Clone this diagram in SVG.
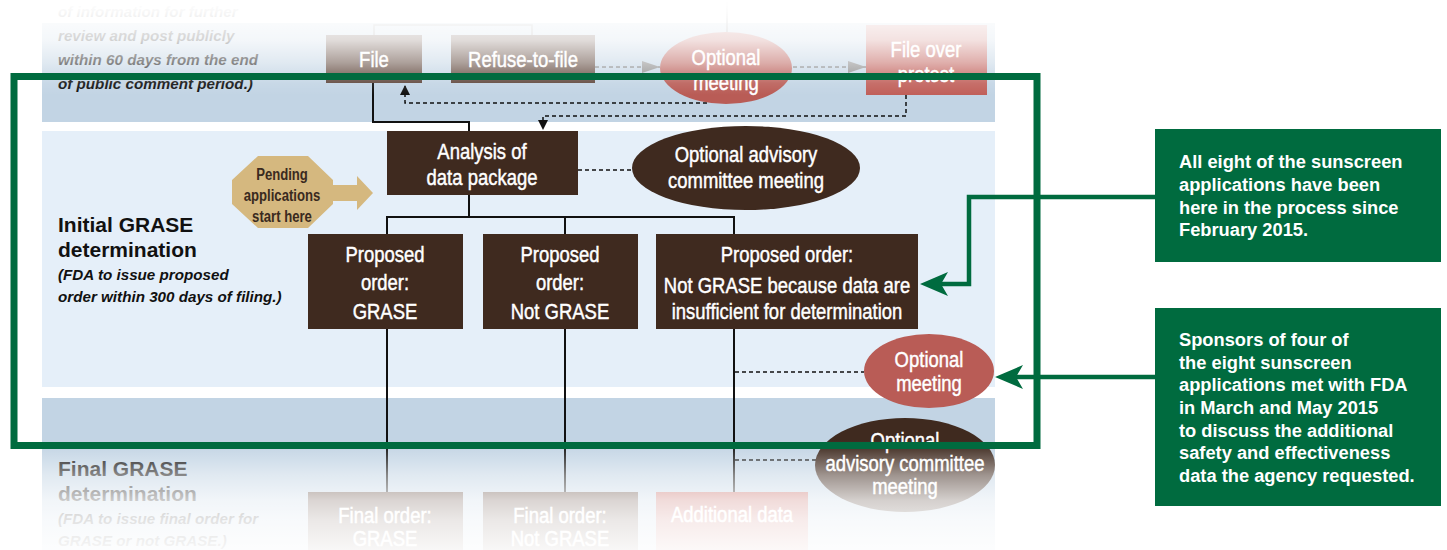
<svg xmlns="http://www.w3.org/2000/svg" width="1447" height="550" viewBox="0 0 1447 550">
<style>
.nt{font-family:"Liberation Sans",Arial,sans-serif;font-size:22px;fill:#fff;stroke:#fff;stroke-width:0.45px;text-anchor:middle}
.lbl{font-family:"Liberation Sans",Arial,sans-serif;font-weight:bold;font-size:21px;fill:#111}
.lbli{font-family:"Liberation Sans",Arial,sans-serif;font-weight:bold;font-style:italic;font-size:15.2px;fill:#111}
.co{font-family:"Liberation Sans",Arial,sans-serif;font-weight:bold;font-size:18.3px;fill:#fff}
.pend{font-family:"Liberation Sans",Arial,sans-serif;font-weight:bold;font-size:16px;fill:#3a2a1e;text-anchor:middle}
.brown{fill:#3f2a1f}
.red{fill:#b95c56}
.solid{fill:none;stroke:#111;stroke-width:2}
.dashb{fill:none;stroke:#111;stroke-width:1.5;stroke-dasharray:4 3}
.dashg{fill:none;stroke:#777;stroke-width:1.5;stroke-dasharray:4 3}
.green{fill:none;stroke:#006b3f;stroke-width:4.5}
</style>
<defs>
<marker id="ahB" viewBox="0 0 10 10" refX="10" refY="5" markerWidth="10" markerHeight="10" markerUnits="userSpaceOnUse" orient="auto"><path d="M0,0 L10,5 L0,10 Z" fill="#111"/></marker>
<marker id="ahG" viewBox="0 0 18 12" refX="18" refY="6" markerWidth="18" markerHeight="12" markerUnits="userSpaceOnUse" orient="auto"><path d="M0,0 L18,6 L0,12 Z" fill="#888"/></marker>
<marker id="ahGr" viewBox="0 0 28 24" refX="14" refY="12" markerWidth="28" markerHeight="24" markerUnits="userSpaceOnUse" orient="auto"><path d="M0,0 L28,12 L0,24 L7,12 Z" fill="#006b3f"/></marker>
<linearGradient id="fadeTop" x1="0" y1="0" x2="0" y2="1">
<stop offset="0" stop-color="#fff" stop-opacity="1"/>
<stop offset="0.12" stop-color="#fff" stop-opacity="0.97"/>
<stop offset="0.42" stop-color="#fff" stop-opacity="0.82"/>
<stop offset="0.66" stop-color="#fff" stop-opacity="0.5"/>
<stop offset="0.88" stop-color="#fff" stop-opacity="0.1"/>
<stop offset="1" stop-color="#fff" stop-opacity="0"/>
</linearGradient>
<linearGradient id="fadeBot" x1="0" y1="0" x2="0" y2="1">
<stop offset="0" stop-color="#fff" stop-opacity="0"/>
<stop offset="0.06" stop-color="#fff" stop-opacity="0.05"/>
<stop offset="0.32" stop-color="#fff" stop-opacity="0.5"/>
<stop offset="0.55" stop-color="#fff" stop-opacity="0.78"/>
<stop offset="0.73" stop-color="#fff" stop-opacity="0.88"/>
<stop offset="1" stop-color="#fff" stop-opacity="0.96"/>
</linearGradient>
</defs>
<rect width="1447" height="550" fill="#fff"/>
<g id="bands">
<rect x="42" y="23" width="953" height="99" fill="#c2d4e4"/>
<rect x="42" y="131" width="953" height="256" fill="#e5eff9"/>
<rect x="42" y="398" width="953" height="152" fill="#c2d4e4"/>
</g>
<g id="stage-labels">
<text class="lbli" x="58" y="17">of information for further</text>
<text class="lbli" x="58" y="41">review and post publicly</text>
<text class="lbli" x="58" y="65">within 60 days from the end</text>
<text class="lbli" x="58" y="89">of public comment period.)</text>
<text class="lbl" x="58" y="232">Initial GRASE</text>
<text class="lbl" x="58" y="257">determination</text>
<text class="lbli" x="58" y="280">(FDA to issue proposed</text>
<text class="lbli" x="58" y="302">order within 300 days of filing.)</text>
<text class="lbl" x="58" y="476">Final GRASE</text>
<text class="lbl" x="58" y="501">determination</text>
<text class="lbli" x="58" y="524">(FDA to issue final order for</text>
<text class="lbli" x="58" y="546">GRASE or not GRASE.)</text>
</g>
<g id="connectors">
<path d="M727,0 V32" fill="none" stroke="#777" stroke-width="1.5"/>
<path d="M374,35 V25 H532 V35" fill="none" stroke="#888" stroke-width="1.5"/>
<path class="dashg" d="M595,67 H660" marker-end="url(#ahG)"/>
<path class="dashg" d="M793,67 H866" marker-end="url(#ahG)"/>
<path class="dashb" d="M707,103 H405 V85" marker-end="url(#ahB)"/>
<path class="dashb" d="M906,95 V116 H543 V130" marker-end="url(#ahB)"/>
<path class="solid" d="M373,83 V122 H469 V131"/>
<path class="solid" d="M469,195 V217"/>
<path class="solid" d="M387,234 V217 H734 V234"/>
<path class="solid" d="M565,217 V234"/>
<path class="dashb" d="M578,170 H632" stroke-width="1.2"/>
<path class="solid" d="M387,329 V492"/>
<path class="solid" d="M565,329 V492"/>
<path class="solid" d="M734,329 V492"/>
<path class="dashb" d="M735,372 H864" stroke-width="1.2"/>
<path class="dashb" d="M735,460 H818" stroke-width="1.2"/>
</g>
<g id="node-file"><rect x="326" y="35" width="96" height="48" fill="#5b4237"/><text class="nt" transform="translate(374,67) scale(0.84,1)">File</text></g>
<g id="node-refuse"><rect x="451" y="35" width="144" height="48" fill="#5b4237"/><text class="nt" transform="translate(523,67) scale(0.84,1)">Refuse-to-file</text></g>
<g id="node-optional-meeting-top"><ellipse class="red" cx="726" cy="68" rx="66" ry="36"/><text class="nt" transform="translate(726,65) scale(0.84,1)">Optional</text><text class="nt" transform="translate(726,90) scale(0.84,1)">meeting</text></g>
<g id="node-file-over-protest"><rect x="866" y="25" width="121" height="70" fill="#c05f59"/><text class="nt" transform="translate(926,57) scale(0.84,1)">File over</text><text class="nt" transform="translate(926,82) scale(0.84,1)">protest</text></g>
<g id="node-pending">
<polygon points="258,156 308,156 333,180 333,185 357,185 357,176 373,193 357,210 357,201 333,201 333,204 308,228 258,228 232,204 232,180" fill="#d5b87f"/>
<text class="pend" transform="translate(282,180) scale(0.82,1)">Pending</text><text class="pend" transform="translate(282,201) scale(0.82,1)">applications</text><text class="pend" transform="translate(282,222) scale(0.82,1)">start here</text>
</g>
<g id="node-analysis"><rect class="brown" x="387" y="131" width="191" height="64"/><text class="nt" transform="translate(482,159) scale(0.84,1)">Analysis of</text><text class="nt" transform="translate(482,185) scale(0.84,1)">data package</text></g>
<g id="node-advisory"><ellipse class="brown" cx="746" cy="168" rx="114" ry="42"/><text class="nt" transform="translate(746,162) scale(0.84,1)">Optional advisory</text><text class="nt" transform="translate(746,188) scale(0.84,1)">committee meeting</text></g>
<g id="node-proposed-grase"><rect class="brown" x="308" y="234" width="155" height="95"/><text class="nt" transform="translate(385,262) scale(0.84,1)">Proposed</text><text class="nt" transform="translate(385,290) scale(0.84,1)">order:</text><text class="nt" transform="translate(385,319) scale(0.84,1)">GRASE</text></g>
<g id="node-proposed-not-grase"><rect class="brown" x="483" y="234" width="155" height="95"/><text class="nt" transform="translate(560,262) scale(0.84,1)">Proposed</text><text class="nt" transform="translate(560,290) scale(0.84,1)">order:</text><text class="nt" transform="translate(560,319) scale(0.84,1)">Not GRASE</text></g>
<g id="node-proposed-insufficient"><rect class="brown" x="656" y="234" width="262" height="95"/><text class="nt" transform="translate(787,262) scale(0.84,1)">Proposed order:</text><text class="nt" transform="translate(787,293) scale(0.84,1)">Not GRASE because data are</text><text class="nt" transform="translate(787,319) scale(0.84,1)">insufficient for determination</text></g>
<g id="node-optional-meeting"><ellipse class="red" cx="929" cy="371" rx="65" ry="37"/><text class="nt" transform="translate(929,367) scale(0.84,1)">Optional</text><text class="nt" transform="translate(929,391) scale(0.84,1)">meeting</text></g>
<g id="node-advisory-bottom"><ellipse class="brown" cx="905" cy="465" rx="90" ry="47"/><text class="nt" transform="translate(905,448) scale(0.84,1)">Optional</text><text class="nt" transform="translate(905,471) scale(0.84,1)">advisory committee</text><text class="nt" transform="translate(905,494) scale(0.84,1)">meeting</text></g>
<g id="node-final-grase"><rect x="308" y="492" width="155" height="60" fill="#5b4237"/><text class="nt" transform="translate(385,523) scale(0.84,1)">Final order:</text><text class="nt" transform="translate(385,546) scale(0.84,1)">GRASE</text></g>
<g id="node-final-not-grase"><rect x="483" y="492" width="155" height="60" fill="#5b4237"/><text class="nt" transform="translate(560,523) scale(0.84,1)">Final order:</text><text class="nt" transform="translate(560,546) scale(0.84,1)">Not GRASE</text></g>
<g id="node-additional-data"><rect x="656" y="492" width="152" height="60" fill="#c05f59"/><text class="nt" transform="translate(732,522) scale(0.84,1)">Additional data</text></g>
<g id="fade">
<rect x="0" y="0" width="1447" height="95" fill="url(#fadeTop)"/>
<rect x="0" y="440" width="1447" height="110" fill="url(#fadeBot)"/>
</g>
<g id="highlight-frame"><rect x="14" y="76.5" width="1023" height="369" fill="none" stroke="#006b3f" stroke-width="7"/></g>
<g id="callout-connectors">
<path class="green" d="M1155,197 H969 V284 H934" marker-end="url(#ahGr)"/>
<path class="green" d="M1155,377 H1009" marker-end="url(#ahGr)"/>
</g>
<g id="callout-1"><rect x="1155" y="129" width="286" height="133" fill="#006b3f"/>
<text class="co" x="1179" y="168">All eight of the sunscreen</text>
<text class="co" x="1179" y="191">applications have been</text>
<text class="co" x="1179" y="214">here in the process since</text>
<text class="co" x="1179" y="236">February 2015.</text>
</g>
<g id="callout-2"><rect x="1155" y="308" width="286" height="198" fill="#006b3f"/>
<text class="co" x="1179" y="346">Sponsors of four of</text>
<text class="co" x="1179" y="369">the eight sunscreen</text>
<text class="co" x="1179" y="391">applications met with FDA</text>
<text class="co" x="1179" y="414">in March and May 2015</text>
<text class="co" x="1179" y="437">to discuss the additional</text>
<text class="co" x="1179" y="459">safety and effectiveness</text>
<text class="co" x="1179" y="482">data the agency requested.</text>
</g>
</svg>
